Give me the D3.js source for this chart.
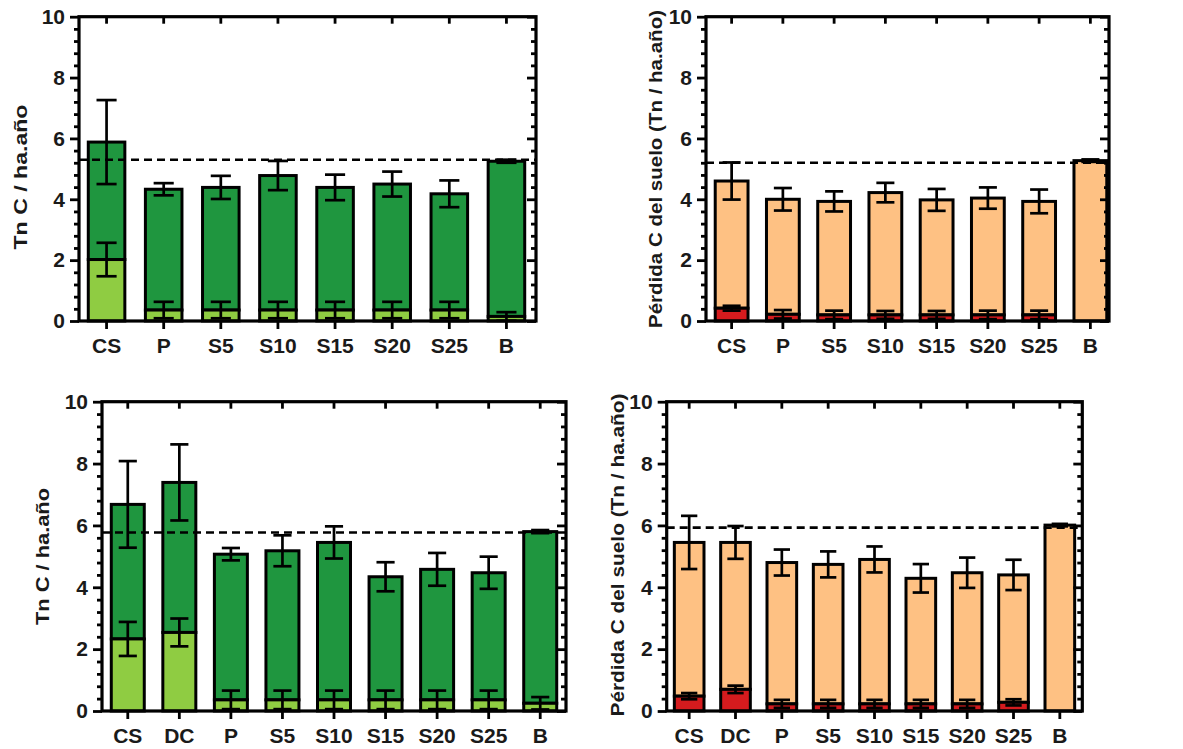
<!DOCTYPE html>
<html>
<head>
<meta charset="utf-8">
<script src="https://cdn.jsdelivr.net/npm/d3@7"></script>
<style>
  html, body { margin: 0; padding: 0; background: #ffffff; }
  svg { display: block; }
  text { font-family: "Liberation Sans", Arial, Helvetica, sans-serif; font-weight: bold; fill: #1a1a1a; }
</style>
</head>
<body>
<svg id="chart" width="1183" height="749"></svg>
<script>
// ---------- DATA ----------
const catsTop = ["CS", "P", "S5", "S10", "S15", "S20", "S25", "B"];
const catsBottom = ["CS", "DC", "P", "S5", "S10", "S15", "S20", "S25", "B"];
const yTickValues = [0, 2, 4, 6, 8, 10];

// Panel A (top-left): Tn C / ha.año
const aTotal    = [5.88, 4.33, 4.39, 4.78, 4.39, 4.50, 4.18, 5.25];
const aTotalErr = [1.38, 0.20, 0.38, 0.48, 0.42, 0.41, 0.44, 0.05];
const aBase     = [2.02, 0.36, 0.36, 0.36, 0.36, 0.36, 0.36, 0.15];
const aBaseErr  = [0.55, 0.27, 0.27, 0.27, 0.27, 0.27, 0.27, 0.14];
const aRef = 5.30;

// Panel B (top-right): Pérdida C del suelo
const bTotal    = [4.60, 4.00, 3.93, 4.22, 3.98, 4.04, 3.93, 5.27];
const bTotalErr = [0.61, 0.37, 0.33, 0.32, 0.36, 0.35, 0.39, 0.04];
const bBase     = [0.42, 0.22, 0.20, 0.20, 0.20, 0.20, 0.20, 0.00];
const bBaseErr  = [0.08, 0.14, 0.14, 0.13, 0.13, 0.14, 0.14, 0.00];
const bRef = 5.20;

// Panel C (bottom-left): Tn C / ha.año
const cTotal    = [6.68, 7.39, 5.07, 5.18, 5.45, 4.34, 4.58, 4.47, 5.80];
const cTotalErr = [1.40, 1.23, 0.20, 0.50, 0.52, 0.47, 0.53, 0.52, 0.05];
const cBase     = [2.33, 2.54, 0.36, 0.36, 0.36, 0.36, 0.36, 0.36, 0.25];
const cBaseErr  = [0.55, 0.45, 0.30, 0.30, 0.30, 0.30, 0.30, 0.30, 0.20];
const cRef = 5.77;

// Panel D (bottom-right): Pérdida C del suelo
const dTotal    = [5.45, 5.45, 4.80, 4.74, 4.90, 4.29, 4.47, 4.40, 6.01];
const dTotalErr = [0.86, 0.53, 0.42, 0.42, 0.42, 0.46, 0.49, 0.49, 0.04];
const dBase     = [0.48, 0.70, 0.23, 0.23, 0.23, 0.23, 0.23, 0.28, 0.00];
const dBaseErr  = [0.10, 0.12, 0.13, 0.13, 0.13, 0.13, 0.13, 0.10, 0.00];
const dRef = 5.93;

const labelTn = "Tn C / ha.año";
const labelPerdida = "Pérdida C del suelo (Tn / ha.año)";

// ---------- COLORS ----------
const darkGreen = "#1f963f";
const lightGreen = "#8fcc42";
const peach = "#fec183";
const red = "#d51b1e";

// ---------- LAYOUT ----------
const panels = [
  { cats: catsTop, total: aTotal, totalErr: aTotalErr, base: aBase, baseErr: aBaseErr, ref: aRef,
    topColor: darkGreen, baseColor: lightGreen, label: labelTn,
    frame: [79, 536, 16.7, 321], band: [78, 535], title: { x: 20.5, y: 177, len: 145 } },
  { cats: catsTop, total: bTotal, totalErr: bTotalErr, base: bBase, baseErr: bBaseErr, ref: bRef,
    topColor: peach, baseColor: red, label: labelPerdida,
    frame: [706, 1109, 16.7, 321], band: [706, 1116], title: { x: 656, y: 169, len: 318 } },
  { cats: catsBottom, total: cTotal, totalErr: cTotalErr, base: cBase, baseErr: cBaseErr, ref: cRef,
    topColor: darkGreen, baseColor: lightGreen, label: labelTn,
    frame: [102, 566, 401.7, 711], band: [102, 566], title: { x: 42.5, y: 556.5, len: 137 } },
  { cats: catsBottom, total: dTotal, totalErr: dTotalErr, base: dBase, baseErr: dBaseErr, ref: dRef,
    topColor: peach, baseColor: red, label: labelPerdida,
    frame: [666.7, 1082.3, 401.7, 711], band: [666, 1083], title: { x: 617.5, y: 555, len: 323 } }
];

const svg = d3.select("#chart");
const minorTicks = d3.range(0, 10.001, 0.4).map(v => +v.toFixed(2)).filter(v => Math.abs(v / 2 - Math.round(v / 2)) > 1e-6);

panels.forEach(p => {
  const [x0, x1, yt, yb] = p.frame;
  const pad = 0.36;
  const x = d3.scaleBand().domain(p.cats).range(p.band).paddingInner(pad).paddingOuter(pad / 2);
  const y = d3.scaleLinear().domain([0, 10]).range([yb, yt]);
  const g = svg.append("g");
  const bw = x.bandwidth();
  const capW = bw * 0.55;

  const rows = p.cats.map((c, i) => ({
    c, total: p.total[i], totalErr: p.totalErr[i], base: p.base[i], baseErr: p.baseErr[i]
  }));

  // top segments (base -> total)
  g.selectAll("rect.top").data(rows).join("rect")
    .attr("x", d => x(d.c)).attr("width", bw)
    .attr("y", d => y(d.total)).attr("height", d => y(d.base) - y(d.total))
    .attr("fill", p.topColor).attr("stroke", "#000").attr("stroke-width", 3);

  // base segments
  g.selectAll("rect.base").data(rows.filter(d => d.base > 0)).join("rect")
    .attr("x", d => x(d.c)).attr("width", bw)
    .attr("y", d => y(d.base)).attr("height", d => y(0) - y(d.base))
    .attr("fill", p.baseColor).attr("stroke", "#000").attr("stroke-width", 3);

  // error bars
  const errs = [];
  rows.forEach(d => {
    errs.push({ c: d.c, v: d.total, e: d.totalErr });
    if (d.base > 0) errs.push({ c: d.c, v: d.base, e: d.baseErr });
  });
  const eg = g.append("g").attr("stroke", "#000").attr("stroke-width", 2.7).attr("fill", "none");
  errs.forEach(d => {
    const cx = x(d.c) + bw / 2;
    const lo = Math.max(0, d.v - d.e), hi = d.v + d.e;
    eg.append("line").attr("x1", cx).attr("x2", cx).attr("y1", y(lo)).attr("y2", y(hi));
    eg.append("line").attr("x1", cx - capW / 2).attr("x2", cx + capW / 2).attr("y1", y(hi)).attr("y2", y(hi));
    eg.append("line").attr("x1", cx - capW / 2).attr("x2", cx + capW / 2).attr("y1", y(lo)).attr("y2", y(lo));
  });

  // dashed reference line
  g.append("line")
    .attr("x1", x0).attr("x2", x1).attr("y1", y(p.ref)).attr("y2", y(p.ref))
    .attr("stroke", "#000").attr("stroke-width", 2.6).attr("stroke-dasharray", "8,5");

  // axes
  const axStyle = sel => {
    sel.select(".domain").remove();
    sel.selectAll(".tick line").attr("stroke", "#000").attr("stroke-width", 2.8);
  };
  const textStyle = size => s => s.selectAll("text").attr("font-size", size).attr("fill", "#1a1a1a")
      .style("font-family", '"Liberation Sans", Arial, sans-serif').style("font-weight", "bold");
  // left major
  g.append("g").attr("transform", `translate(${x0},0)`)
    .call(d3.axisLeft(y).tickValues(yTickValues).tickSize(9).tickPadding(5).tickFormat(d3.format("d")))
    .call(axStyle)
    .call(textStyle(21));
  // left minor
  g.append("g").attr("transform", `translate(${x0},0)`)
    .call(d3.axisLeft(y).tickValues(minorTicks).tickSize(5).tickFormat(""))
    .call(axStyle);
  // right major (inward)
  g.append("g").attr("transform", `translate(${x1},0)`)
    .call(d3.axisLeft(y).tickValues(yTickValues).tickSize(9).tickFormat(""))
    .call(axStyle);
  // right minor (inward)
  g.append("g").attr("transform", `translate(${x1},0)`)
    .call(d3.axisLeft(y).tickValues(minorTicks).tickSize(5).tickFormat(""))
    .call(axStyle);
  // bottom
  g.append("g").attr("transform", `translate(0,${yb})`)
    .call(d3.axisBottom(x).tickSize(8).tickPadding(9))
    .call(axStyle)
    .call(textStyle(21));
  // top (inward)
  g.append("g").attr("transform", `translate(0,${yt})`)
    .call(d3.axisBottom(x).tickSize(7).tickFormat(""))
    .call(axStyle);

  // frame
  g.append("rect").attr("x", x0).attr("y", yt).attr("width", x1 - x0).attr("height", yb - yt)
    .attr("fill", "none").attr("stroke", "#000").attr("stroke-width", 3.2);

  // y title
  g.append("text")
    .attr("transform", `translate(${p.title.x},${p.title.y}) rotate(-90)`)
    .attr("text-anchor", "middle").attr("dominant-baseline", "central")
    .attr("font-size", 18)
    .attr("textLength", p.title.len).attr("lengthAdjust", "spacingAndGlyphs")
    .text(p.label);
});
</script>
</body>
</html>
